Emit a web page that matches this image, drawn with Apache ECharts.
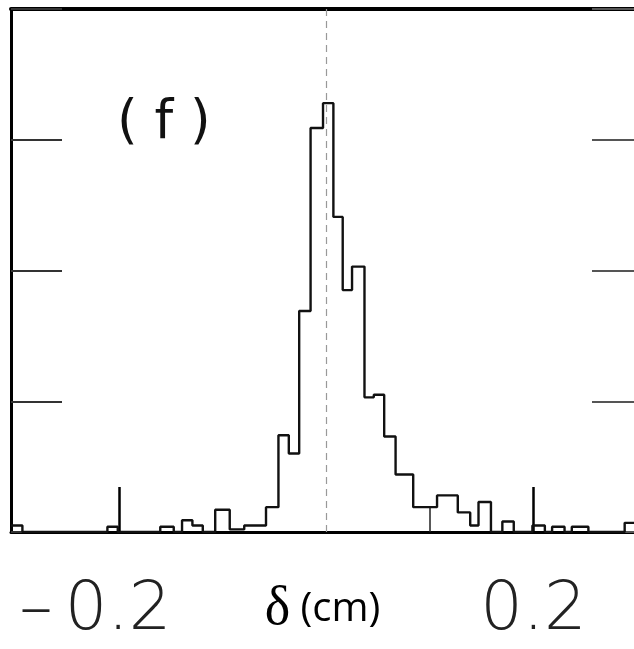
<!DOCTYPE html>
<html lang="en">
<head>
    <meta charset="UTF-8">
    <title>histogram (f)</title>
    <script src="https://cdn.jsdelivr.net/npm/echarts@6/dist/echarts.min.js"></script>
    <style>
        html, body { margin: 0; padding: 0; background: #fff; }
        #main { width: 634px; height: 649px; }
    </style>
</head>
<body>
<div id="main"></div>
<script type="text/javascript">
    // bin edges (cm) and bin heights (units of one y tick)
    var binEdges = [-0.304, -0.293, -0.211, -0.201, -0.160, -0.147, -0.139, -0.129, -0.119, -0.107,
        -0.093, -0.079, -0.058, -0.046, -0.036, -0.026, -0.015, -0.003, 0.007, 0.016,
        0.025, 0.037, 0.046, 0.056, 0.067, 0.084, 0.107, 0.127, 0.139, 0.147,
        0.159, 0.170, 0.181, 0.199, 0.211, 0.218, 0.230, 0.237, 0.253, 0.288, 0.297];
    var binHeights = [0.05, 0, 0.04, 0, 0.04, 0, 0.09, 0.05, 0, 0.17,
        0.02, 0.05, 0.19, 0.74, 0.60, 1.69, 3.09, 3.28, 2.41, 1.85,
        2.03, 1.03, 1.05, 0.73, 0.44, 0.19, 0.28, 0.15, 0.05, 0.23,
        0, 0.08, 0, 0.05, 0, 0.04, 0, 0.04, 0, 0.07];
    var xTickLabels = [-0.2, 0.2];
    var xShortTicks = [0.1];
    var xRange = [-0.304, 0.297];
    var yRange = [0, 4];

    var stepData = [];
    for (var i = 0; i < binHeights.length; i++) {
        stepData.push([binEdges[i], binHeights[i]]);
    }
    stepData.push([binEdges[binEdges.length - 1], binHeights[binHeights.length - 1]]);

    var chart = echarts.init(document.getElementById('main'));

    var labelFont = {fontFamily: 'DejaVu Sans', fontWeight: 200, fontSize: 67, color: '#222'};

    var option = {
        backgroundColor: '#fff',
        animation: false,
        title: {
            text: '( f )',
            left: 112,
            top: 93,
            textStyle: {fontFamily: 'DejaVu Sans', fontSize: 53, fontWeight: 'normal', color: '#111'}
        },
        grid: {left: 11, right: 0, top: 9, bottom: 117, outerBoundsMode: 'none'},
        xAxis: [
            {   // main bottom axis, long ticks and labels
                type: 'value', min: xRange[0], max: xRange[1],
                splitLine: {show: false},
                axisLine: {onZero: false, lineStyle: {color: '#000', width: 3}},
                axisTick: {inside: true, length: 45, customValues: xTickLabels,
                    lineStyle: {color: '#000', width: 2.5}},
                axisLabel: {
                    customValues: xTickLabels, margin: 46, hideOverlap: false,
                    fontFamily: 'DejaVu Sans', fontWeight: 200, fontSize: 67, color: '#222',
                    formatter: function (v) {
                        return v < 0 ? '{m|\u2013}{n|' + Math.abs(v).toFixed(1) + '}' : '{pos|' + v.toFixed(1) + '}';
                    },
                    rich: {
                        m: Object.assign({padding: [0, 12, 0, 0]}, labelFont),
                        n: Object.assign({padding: [0, 47, 0, 0]}, labelFont),
                        pos: Object.assign({}, labelFont)
                    }
                },
                name: '{d|\u03b4}{u| (cm)}',
                nameLocation: 'middle',
                nameGap: 51,
                nameMoveOverlap: false,
                nameTextStyle: {
                    rich: {
                        d: {fontFamily: 'Liberation Serif', fontSize: 54, color: '#000'},
                        u: {fontFamily: 'Open Sans', fontSize: 40, color: '#000'}
                    }
                }
            },
            {   // short tick at 0.1
                type: 'value', min: xRange[0], max: xRange[1], position: 'bottom',
                splitLine: {show: false},
                axisLine: {show: false, onZero: false},
                axisTick: {inside: true, length: 25, customValues: xShortTicks,
                    lineStyle: {color: '#222', width: 1.5}},
                axisLabel: {show: false}
            },
            {   // top frame
                type: 'value', min: xRange[0], max: xRange[1], position: 'top',
                splitLine: {show: false},
                axisLine: {onZero: false, lineStyle: {color: '#000', width: 4}},
                axisTick: {show: false},
                axisLabel: {show: false}
            }
        ],
        yAxis: [
            {
                type: 'value', min: yRange[0], max: yRange[1], interval: 1, position: 'left',
                splitLine: {show: false},
                axisLine: {show: true, onZero: false, lineStyle: {color: '#000', width: 3}},
                axisTick: {show: true, inside: true, length: 51, lineStyle: {color: '#333', width: 2}},
                axisLabel: {show: false}
            },
            {
                type: 'value', min: yRange[0], max: yRange[1], interval: 1, position: 'right',
                splitLine: {show: false},
                axisLine: {show: false, onZero: false},
                axisTick: {show: true, inside: true, length: 42, lineStyle: {color: '#555', width: 2}},
                axisLabel: {show: false}
            }
        ],
        series: [{
            type: 'line',
            step: 'end',
            data: stepData,
            symbol: 'none',
            lineStyle: {color: '#111', width: 2.4},
            markLine: {
                silent: true,
                symbol: 'none',
                label: {show: false},
                lineStyle: {color: '#999', width: 1.2, type: [7, 5]},
                data: [{xAxis: 0}]
            }
        }]
    };

    chart.setOption(option);
</script>
</body>
</html>
